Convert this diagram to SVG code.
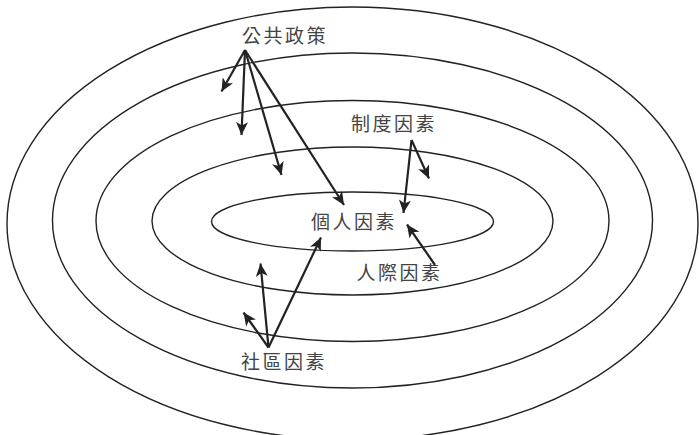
<svg xmlns="http://www.w3.org/2000/svg" width="699" height="435" viewBox="0 0 699 435">
<defs>
<style>
.ring{fill:none;stroke:#222;stroke-width:1.4}
.arr{fill:none;stroke:#222;stroke-width:2.2;marker-end:url(#ah)}
.lbl{font-family:"Noto Sans CJK TC","Noto Sans CJK SC",sans-serif;font-size:19px;letter-spacing:2.5px;fill:#444}
</style>
<marker id="ah" markerUnits="userSpaceOnUse" markerWidth="14" markerHeight="12" refX="13" refY="6" orient="auto" viewBox="0 0 14 12">
<path d="M0,0 L13,6 L0,12 L3.5,6 Z" fill="#222"/>
</marker>
</defs>
<rect width="699" height="435" fill="#fff"/>
<g id="rings">
<ellipse id="ring-policy" class="ring" cx="352.5" cy="223.5" rx="345.5" ry="216.5"/>
<ellipse id="ring-community" class="ring" cx="352.5" cy="220.5" rx="300" ry="167.5"/>
<ellipse id="ring-institutional" class="ring" cx="352.5" cy="221" rx="256.5" ry="120.5"/>
<ellipse id="ring-interpersonal" class="ring" cx="352.5" cy="221" rx="200.5" ry="74"/>
<ellipse id="ring-individual" class="ring" cx="352.5" cy="221.5" rx="141" ry="29.5"/>
</g>
<g id="connectors">
<line class="arr" x1="245" y1="50" x2="221.5" y2="91.5"/>
<line class="arr" x1="245" y1="50" x2="241.5" y2="135"/>
<line class="arr" x1="245" y1="50" x2="281.5" y2="175"/>
<line class="arr" x1="245" y1="50" x2="344" y2="205"/>
<line class="arr" x1="411.5" y1="140" x2="429" y2="178.5"/>
<line class="arr" x1="411.5" y1="140" x2="403.5" y2="213"/>
<line class="arr" x1="435" y1="265" x2="407" y2="224.5"/>
<line class="arr" x1="268.5" y1="347.5" x2="321" y2="237.5"/>
<line class="arr" x1="268.5" y1="347.5" x2="260.5" y2="263.5"/>
<line class="arr" x1="268.5" y1="347.5" x2="243.5" y2="312.5"/>
</g>
<g id="node-policy"><text class="lbl" x="242" y="43">公共政策</text></g>
<g id="node-institutional"><text class="lbl" x="351" y="131">制度因素</text></g>
<g id="node-individual"><text class="lbl" x="311" y="229">個人因素</text></g>
<g id="node-interpersonal"><text class="lbl" x="356.5" y="279.5">人際因素</text></g>
<g id="node-community"><text class="lbl" x="241" y="368.5">社區因素</text></g>
</svg>
